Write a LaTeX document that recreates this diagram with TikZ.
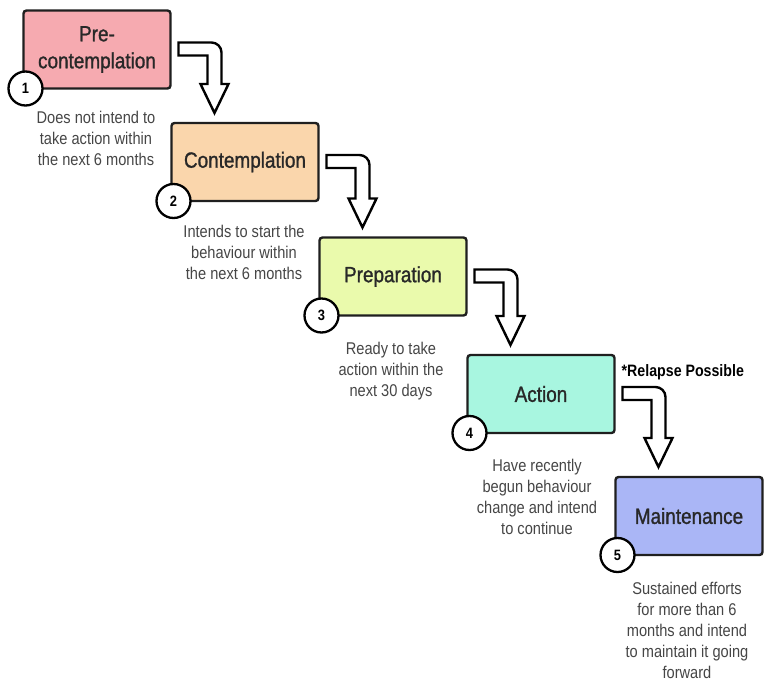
\documentclass[tikz,border=0pt]{standalone}
\usepackage{fontspec}
\setmainfont[FakeStretch=0.86]{Liberation Sans}
\newfontfamily\stagefont[FakeStretch=0.86, FakeBold=1.2]{Liberation Sans}
\usetikzlibrary{positioning}

\definecolor{prered}{RGB}{246,170,176}
\definecolor{contorange}{RGB}{250,214,172}
\definecolor{prepgreen}{RGB}{234,250,172}
\definecolor{actmint}{RGB}{168,246,224}
\definecolor{maintblue}{RGB}{170,182,246}
\definecolor{boxtext}{RGB}{40,40,40}
\definecolor{desctext}{RGB}{70,70,70}

\begin{document}
\begin{tikzpicture}[x=1pt, y=-1pt,
  stage/.style={rectangle, draw=black!88, line width=2.4pt, rounded corners=3pt, outer sep=0pt,
    minimum width=147pt, minimum height=78pt, align=center, text=boxtext,
    font=\stagefont\fontsize{22}{27}\selectfont},
  num/.style={circle, draw=black, fill=white, line width=2.3pt, minimum size=34pt, inner sep=0pt,
    font=\bfseries\fontsize{15}{15}\selectfont},
  desc/.style={align=center, inner sep=0pt, text=desctext, font=\fontsize{17}{21}\selectfont},
  bent/.style={draw=black, line width=2.4pt, fill=white, line join=miter}]
\path[use as bounding box, fill=white] (0,0) rectangle (772,686);

\foreach \i/\x/\y/\c/\t in {1/97/49.5/prered/{Pre-\\contemplation},
                            2/245/162/contorange/Contemplation,
                            3/393/276.5/prepgreen/Preparation,
                            4/541/394/actmint/Action,
                            5/689/516/maintblue/Maintenance} {
  \node[stage, fill=\c] (b\i) at (\x, \y) {\t};
}

\foreach \a/\b in {b1/b2, b2/b3, b3/b4, b4/b5} {
  \draw[bent] ([shift={(8,-7)}]\a.east) [rounded corners=10pt] -- ([shift={(51,-7)}]\a.east) [sharp corners]
    -- ([shift={(50,-39)}]\b.north west) -- ([shift={(57,-39)}]\b.north west)
    -- ([shift={(43,-10)}]\b.north west) -- ([shift={(29,-39)}]\b.north west)
    -- ([shift={(36,-39)}]\b.north west) -- ([shift={(37,6)}]\a.east)
    -- ([shift={(8,6)}]\a.east) -- cycle;
}

\foreach \i in {1, ..., 5} {
  \node[num] (n\i) at ([shift={(2,0)}]b\i.south west) {\i};
}

\node[desc, below=22pt of b1, xshift=-1pt] (d1) {Does not intend to\\take action within\\the next 6 months};
\node[desc, below=24pt of b2, xshift=-1pt] (d2) {Intends to start the\\behaviour within\\the next 6 months};
\node[desc, below=26pt of b3, xshift=-2pt] (d3) {Ready to take\\action within the\\next 30 days};
\node[desc, below=26pt of b4, xshift=-4pt] (d4) {Have recently\\begun behaviour\\change and intend\\to continue};
\node[desc, below=27pt of b5, xshift=-2pt] (d5) {Sustained efforts\\for more than 6\\months and intend\\to maintain it going\\forward};

\node[inner sep=0pt, font=\bfseries\fontsize{16.5}{18}\selectfont, below right=9pt and 7pt of b4.north east] (relapse) {*Relapse Possible};
\end{tikzpicture}
\end{document}
